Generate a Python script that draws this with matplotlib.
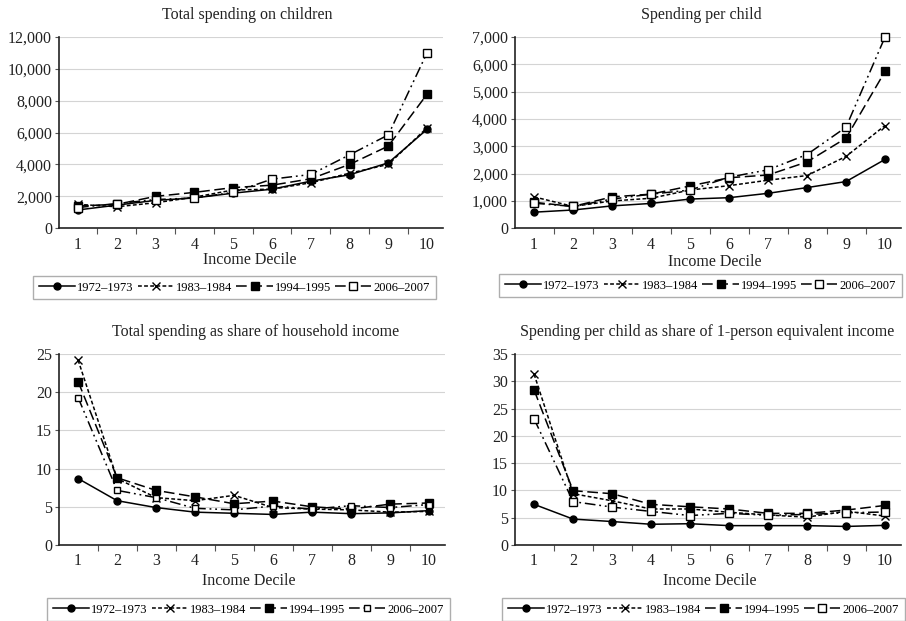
import matplotlib
matplotlib.use("Agg")
import matplotlib.pyplot as plt
from matplotlib.ticker import FuncFormatter, FixedLocator

plt.rcParams['font.family'] = ['Liberation Serif', 'DejaVu Serif']

deciles = [1, 2, 3, 4, 5, 6, 7, 8, 9, 10]
series_names = ["1972\u20131973", "1983\u20131984", "1994\u20131995", "2006\u20132007"]

# Total spending on children
total_1972 = [1150, 1450, 1750, 1900, 2200, 2450, 2950, 3350, 4100, 6200]
total_1983 = [1500, 1350, 1600, 1950, 2400, 2450, 2850, 3450, 4000, 6300]
total_1994 = [1400, 1500, 2000, 2250, 2550, 2700, 3100, 4000, 5150, 8400]
total_2006 = [1300, 1550, 1800, 1900, 2250, 3080, 3370, 4600, 5850, 11000]

# Spending per child
child_1972 = [590, 670, 820, 910, 1070, 1120, 1280, 1490, 1710, 2520]
child_1983 = [1150, 800, 1000, 1100, 1400, 1560, 1760, 1930, 2630, 3760]
child_1994 = [950, 800, 1150, 1250, 1550, 1850, 1950, 2430, 3300, 5740]
child_2006 = [920, 800, 1070, 1250, 1400, 1870, 2140, 2700, 3700, 7000]

# Total spending as share of household income
share_1972 = [8.7, 5.8, 4.9, 4.3, 4.15, 4.0, 4.3, 4.1, 4.2, 4.5]
share_1983 = [24.2, 8.7, 6.2, 5.8, 6.5, 4.9, 4.7, 4.6, 4.3, 4.4]
share_1994 = [21.4, 8.8, 7.15, 6.3, 5.4, 5.75, 5.0, 4.7, 5.35, 5.5]
share_2006 = [19.3, 7.15, 6.2, 4.8, 4.6, 5.1, 4.7, 5.15, 4.9, 5.3]

# Spending per child as share of 1-person equivalent income
equiv_1972 = [7.45, 4.75, 4.3, 3.8, 3.9, 3.55, 3.55, 3.55, 3.4, 3.6]
equiv_1983 = [31.3, 9.4, 8.1, 6.6, 6.6, 6.0, 5.5, 5.1, 6.2, 5.3]
equiv_1994 = [28.4, 9.95, 9.4, 7.45, 7.0, 6.6, 5.8, 5.8, 6.4, 7.25]
equiv_2006 = [23.1, 7.95, 6.95, 6.15, 5.4, 5.8, 5.45, 5.6, 5.9, 6.05]

titles = ["Total spending on children", "Spending per child",
          "Total spending as share of household income",
          "Spending per child as share of 1-person equivalent income"]
xlabel = "Income Decile"

W, H = 906, 621
fig = plt.figure(figsize=(W / 100, H / 100), dpi=100)

def fx(px):
    return px / W

def fy(py):
    return 1 - py / H

panels = [
    dict(rect=(59, 36.7, 443, 228.3), data=[total_1972, total_1983, total_1994, total_2006],
         ymax=12000, step=2000, comma=True, title_xy=(247, 15), xl_xy=(250, 260),
         leg_xy=(33, 276), small_sq=False),
    dict(rect=(515, 37, 901, 228.3), data=[child_1972, child_1983, child_1994, child_2006],
         ymax=7000, step=1000, comma=True, title_xy=(701, 15), xl_xy=(715, 262),
         leg_xy=(499, 274), small_sq=False),
    dict(rect=(59, 354, 445, 545), data=[share_1972, share_1983, share_1994, share_2006],
         ymax=25, step=5, comma=False, title_xy=(256, 332), xl_xy=(249, 581),
         leg_xy=(47, 598), small_sq=True),
    dict(rect=(515, 354, 901, 545), data=[equiv_1972, equiv_1983, equiv_1994, equiv_2006],
         ymax=35, step=5, comma=False, title_xy=(707, 332), xl_xy=(710, 581),
         leg_xy=(502, 598), small_sq=False),
]

for i, p in enumerate(panels):
    x0, y0, x1, y1 = p['rect']
    ax = fig.add_axes([fx(x0), fy(y1), fx(x1 - x0), (y1 - y0) / H])
    d72, d83, d94, d06 = p['data']
    sq = 3.8 if p['small_sq'] else 6
    lines = []
    lines += ax.plot(deciles, d72, color='black', lw=1.1, ls='-', marker='o', ms=5,
                     mfc='black', mec='black', clip_on=False)
    lines += ax.plot(deciles, d83, color='black', lw=1.1, ls=(0, (2.5, 1.5)), marker='x', ms=6,
                     mew=1.0, mec='black', clip_on=False)
    lines += ax.plot(deciles, d94, color='black', lw=1.1, ls=(0, (7, 3)), marker='s', ms=5.5,
                     mfc='black', mec='black', clip_on=False)
    lines += ax.plot(deciles, d06, color='black', lw=1.1, ls=(0, (7, 2.5, 1.2, 2.5, 1.2, 2.5)),
                     marker='s', ms=sq, mfc='white', mec='black', mew=1.0, clip_on=False)
    ax.set_xlim(0.51, 10.41)
    ax.set_ylim(0, p['ymax'])
    yt = list(range(0, p['ymax'] + 1, p['step']))
    ax.yaxis.set_major_locator(FixedLocator(yt))
    if p['comma']:
        ax.yaxis.set_major_formatter(FuncFormatter(lambda v, pos: f"{int(v):,}"))
    ax.set_xticks(deciles)
    ax.set_xticks([k + 0.5 for k in range(1, 10)], minor=True)
    ax.tick_params(axis='x', which='major', length=0, labelsize=11.5, pad=6, colors='#222222')
    ax.tick_params(axis='x', which='minor', length=4, width=0.8, direction='out', color='#555555')
    ax.tick_params(axis='y', which='major', length=3, width=0.8, labelsize=11.5, pad=2,
                   colors='#222222', color='#555555')
    ax.grid(axis='y', color='#d4d4d4', lw=0.8)
    ax.set_axisbelow(True)
    for s in ['top', 'right']:
        ax.spines[s].set_visible(False)
    for s in ['left', 'bottom']:
        ax.spines[s].set_linewidth(1.2)
        ax.spines[s].set_color('#222222')
    fig.text(fx(p['title_xy'][0]), fy(p['title_xy'][1]), titles[i], ha='center', va='center',
             fontsize=11.5, color='#222222')
    fig.text(fx(p['xl_xy'][0]), fy(p['xl_xy'][1]), xlabel, ha='center', va='center',
             fontsize=11.5, color='#222222')
    leg = fig.legend(lines, series_names, loc='upper left',
                     bbox_to_anchor=(fx(p['leg_xy'][0]), fy(p['leg_xy'][1])),
                     bbox_transform=fig.transFigure, ncol=4, fontsize=9,
                     handlelength=2.9, handletextpad=0.2, columnspacing=0.3,
                     borderpad=0.45, borderaxespad=0.0, frameon=True, fancybox=False)
    leg.get_frame().set_edgecolor('#9a9a9a')
    leg.get_frame().set_linewidth(1.0)

fig.savefig("out.png", dpi=100)
